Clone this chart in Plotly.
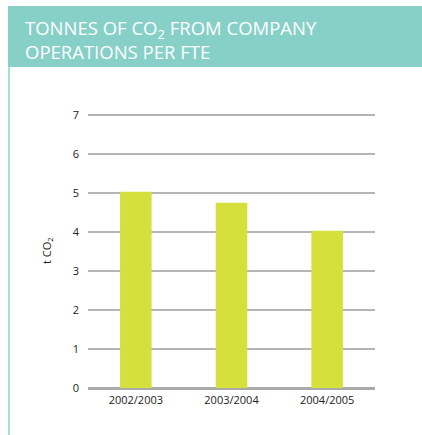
import plotly.graph_objects as go

# Tonnes of CO2 per FTE by financial year
years = ["2002/2003", "2003/2004", "2004/2005"]
tonnes_per_fte = [5.03, 4.75, 4.03]
y_ticks = [0, 1, 2, 3, 4, 5, 6, 7]

W, H = 422, 435
L, R, T, B = 88, 47, 114, 47
pw, ph = W - L - R, H - T - B


def px_x(p):
    return (p - L) / pw


def px_y(p):
    return (H - B - p) / ph


TEAL = "#86d0c8"
TEAL_LINE = "#a8ddd8"
BAR = "#d6e03c"
TEXT = "#222222"

fig = go.Figure(
    go.Bar(
        x=years,
        y=tonnes_per_fte,
        marker=dict(color=BAR, line=dict(width=0)),
        width=0.33,
        hoverinfo="x+y",
    )
)

fig.update_layout(
    template="none",
    width=W,
    height=H,
    margin=dict(l=L, r=R, t=T, b=B, pad=0),
    paper_bgcolor="white",
    plot_bgcolor="white",
    showlegend=False,
    font=dict(family="Open Sans, sans-serif", color=TEXT, size=11),
    xaxis=dict(
        type="category",
        range=[-0.5, 2.5],
        showgrid=False,
        showline=False,
        zeroline=False,
        ticks="",
        tickfont=dict(size=11, color=TEXT),
        ticklabelstandoff=4,
    ),
    yaxis=dict(
        range=[0, 7.026],
        tickvals=y_ticks,
        showgrid=True,
        gridcolor="#b5b5b5",
        gridwidth=1.5,
        zeroline=True,
        zerolinecolor="#aaaaaa",
        zerolinewidth=3,
        showline=False,
        ticks="",
        tickfont=dict(size=11, color=TEXT),
        ticklabelstandoff=8,
    ),
    shapes=[
        # header band
        dict(
            type="rect",
            xref="paper",
            yref="paper",
            x0=px_x(8),
            x1=px_x(W + 2),
            y0=px_y(67),
            y1=px_y(6),
            fillcolor=TEAL,
            line=dict(width=0),
            layer="below",
        ),
        # left border of the panel
        dict(
            type="line",
            xref="paper",
            yref="paper",
            x0=px_x(9),
            x1=px_x(9),
            y0=px_y(67),
            y1=px_y(H + 2),
            line=dict(color=TEAL_LINE, width=2),
            layer="below",
        ),
    ],
    annotations=[
        # panel heading
        dict(
            text="TONNES OF CO<sub>2</sub> FROM COMPANY<br>OPERATIONS PER FTE",
            xref="paper",
            yref="paper",
            x=px_x(23),
            y=px_y(13),
            xanchor="left",
            yanchor="top",
            align="left",
            showarrow=False,
            font=dict(family="Open Sans, sans-serif", size=18.5, color="white",
                      weight=500),
        ),
        # y-axis title
        dict(
            text="t CO<sub>2</sub>",
            xref="paper",
            yref="paper",
            x=px_x(47),
            y=0.5,
            xanchor="center",
            yanchor="middle",
            textangle=-90,
            showarrow=False,
            font=dict(size=11, color=TEXT),
        ),
    ],
)

fig.write_html("out.html")
